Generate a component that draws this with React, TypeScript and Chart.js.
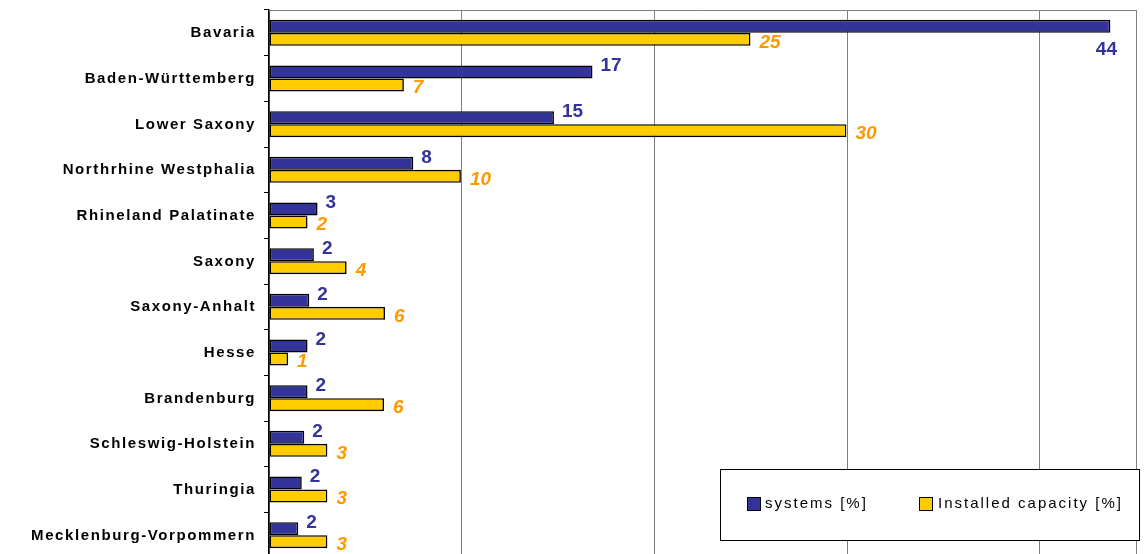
import React, { useEffect, useRef } from "react";
import { Chart, registerables } from "chart.js";

Chart.register(...registerables);

const categories = [
  "Bavaria",
  "Baden-Württemberg",
  "Lower Saxony",
  "Northrhine Westphalia",
  "Rhineland Palatinate",
  "Saxony",
  "Saxony-Anhalt",
  "Hesse",
  "Brandenburg",
  "Schleswig-Holstein",
  "Thuringia",
  "Mecklenburg-Vorpommern",
];

const systemsValues = [43.67, 16.79, 14.79, 7.49, 2.52, 2.33, 2.09, 2.0, 2.0, 1.83, 1.7, 1.52];
const capacityValues = [24.99, 7.0, 29.97, 9.96, 2.0, 4.03, 6.02, 0.99, 5.97, 3.03, 3.03, 3.03];
const systemsLabels = ["44", "17", "15", "8", "3", "2", "2", "2", "2", "2", "2", "2"];
const capacityLabels = ["25", "7", "30", "10", "2", "4", "6", "1", "6", "3", "3", "3"];
const seriesNames = ["systems [%]", "Installed capacity [%]"];

const X_MIN = 0;
const X_MAX = 45;
const X_STEP = 10;

const NAVY = "#333399";
const GOLD = "#FFCC00";
const ORANGE = "#FF9900";
const GRID = "#808080";
const FONT = "'Liberation Sans', Arial, sans-serif";

export default function App() {
  const ref = useRef<HTMLCanvasElement>(null);

  useEffect(() => {
    const canvas = ref.current;
    if (!canvas) return;

    const customPlugin = {
      id: "customDraw",
      beforeDatasetsDraw(chart: any) {
        const ctx = chart.ctx;
        const a = chart.chartArea;
        ctx.save();
        ctx.strokeStyle = GRID;
        ctx.lineWidth = 1;
        ctx.beginPath();
        const t = Math.round(a.top) + 0.5;
        const r = Math.round(a.right) + 0.5;
        ctx.moveTo(a.left, t);
        ctx.lineTo(r, t);
        ctx.moveTo(r, t);
        ctx.lineTo(r, a.bottom);
        ctx.stroke();
        ctx.restore();
      },
      afterDatasetsDraw(chart: any) {
        const ctx = chart.ctx;
        const a = chart.chartArea;
        const yScale = chart.scales.y;
        ctx.save();
        // category labels
        ctx.font = `bold 15px ${FONT}`;
        (ctx as any).letterSpacing = "1.6px";
        ctx.fillStyle = "#000";
        ctx.textAlign = "right";
        ctx.textBaseline = "middle";
        categories.forEach((c, i) => {
          const y = yScale.getPixelForValue(i);
          ctx.fillText(c, 256, y + 0.5);
        });
        (ctx as any).letterSpacing = "0px";

        // data labels
        const drawSet = (dsIndex: number, labels: string[], color: string, italic: boolean, dx: number, dy: number) => {
          const meta = chart.getDatasetMeta(dsIndex);
          ctx.font = `${italic ? "italic " : ""}bold 19px ${FONT}`;
          ctx.fillStyle = color;
          ctx.textBaseline = "middle";
          meta.data.forEach((bar: any, i: number) => {
            const text = labels[i];
            const w = ctx.measureText(text).width;
            let x = bar.x + dx;
            let y = bar.y + dy;
            if (x + w > a.right) {
              ctx.textAlign = "center";
              x = bar.x - 4;
              y = bar.y + 23;
            } else {
              ctx.textAlign = "left";
            }
            ctx.fillText(text, x, y);
          });
        };
        drawSet(0, systemsLabels, NAVY, false, 8, -6);
        drawSet(1, capacityLabels, ORANGE, true, 9, 3);
        ctx.restore();
      },
      afterDraw(chart: any) {
        const ctx = chart.ctx;
        ctx.save();
        // legend box
        ctx.fillStyle = "#fff";
        ctx.fillRect(720.5, 469.5, 419, 71);
        ctx.strokeStyle = "#000";
        ctx.lineWidth = 1;
        ctx.strokeRect(720.5, 469.5, 419, 71);
        const items = [
          { x: 747.5, tx: 765, color: NAVY, label: seriesNames[0] },
          { x: 919.5, tx: 938, color: GOLD, label: seriesNames[1] },
        ];
        ctx.font = `15px ${FONT}`;
        (ctx as any).letterSpacing = "2px";
        ctx.textAlign = "left";
        ctx.textBaseline = "middle";
        items.forEach((it) => {
          ctx.fillStyle = it.color;
          ctx.fillRect(it.x, 497.5, 13, 13);
          ctx.strokeStyle = "#000";
          ctx.strokeRect(it.x, 497.5, 13, 13);
          ctx.fillStyle = "#000";
          ctx.fillText(it.label, it.tx, 503.5);
        });
        ctx.restore();
      },
    };

    const chart = new Chart(canvas, {
      type: "bar",
      data: {
        labels: categories,
        datasets: [
          {
            label: seriesNames[0],
            data: systemsValues,
            backgroundColor: NAVY,
            borderColor: "#000",
            borderWidth: 1.6,
            borderSkipped: false,
            categoryPercentage: 0.57,
            barPercentage: 1.0,
          },
          {
            label: seriesNames[1],
            data: capacityValues,
            backgroundColor: GOLD,
            borderColor: "#000",
            borderWidth: 1.6,
            borderSkipped: false,
            categoryPercentage: 0.57,
            barPercentage: 1.0,
          },
        ],
      },
      options: {
        indexAxis: "y",
        responsive: false,
        animation: false,
        devicePixelRatio: 1,
        events: [],
        layout: { padding: { left: 0, top: 10, right: 9, bottom: 2 } },
        plugins: {
          legend: { display: false },
          tooltip: { enabled: false },
        },
        scales: {
          x: {
            min: X_MIN,
            max: X_MAX,
            ticks: { display: false, stepSize: X_STEP },
            grid: { color: GRID, lineWidth: 1, drawTicks: false },
            border: { display: false },
            afterFit: (scale: any) => {
              scale.height = 0;
            },
          },
          y: {
            ticks: { display: false },
            grid: {
              drawOnChartArea: false,
              drawTicks: true,
              tickLength: 5,
              color: "#000",
              offset: true,
            },
            border: { display: true, color: "#000", width: 1.5 },
            afterFit: (scale: any) => {
              scale.width = 269;
            },
          },
        },
      },
      plugins: [customPlugin],
    } as any);

    return () => chart.destroy();
  }, []);

  return (
    <div
      style={{
        position: "fixed",
        left: 0,
        top: 0,
        width: 1145,
        height: 554,
        overflow: "hidden",
        background: "#fff",
      }}
    >
      <canvas ref={ref} width={1145} height={560} style={{ display: "block" }} />
    </div>
  );
}
